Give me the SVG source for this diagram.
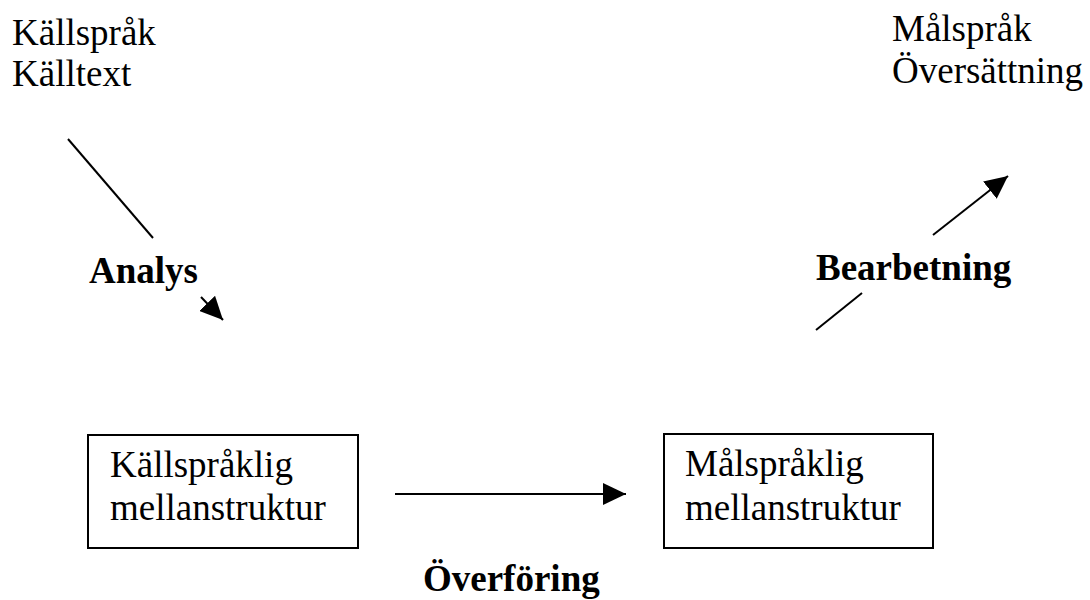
<svg xmlns="http://www.w3.org/2000/svg" width="1090" height="600" viewBox="0 0 1090 600">
<style>
.t{font-family:"Liberation Serif","Times New Roman",serif;font-size:37px;fill:#000}
.b{font-weight:bold}
.ln{stroke:#000;stroke-width:2;fill:none}
.box{stroke:#000;stroke-width:2;fill:#fff}
</style>
<defs>
<marker id="ah" markerUnits="userSpaceOnUse" markerWidth="24" markerHeight="22" refX="23" refY="11" orient="auto">
<path d="M0,0 L23,11 L0,22 z" fill="#000"/>
</marker>
</defs>
<rect width="1090" height="600" fill="#fff"/>
<g id="src">
<text class="t" x="12" y="45">Källspråk</text>
<text class="t" x="12" y="86">Källtext</text>
</g>
<g id="tgt">
<text class="t" x="892" y="41">Målspråk</text>
<text class="t" x="892" y="83">Översättning</text>
</g>
<g id="box1">
<rect class="box" x="88" y="435" width="270" height="113"/>
<text class="t" x="110" y="477">Källspråklig</text>
<text class="t" x="110" y="520">mellanstruktur</text>
</g>
<g id="box2">
<rect class="box" x="664" y="434" width="269" height="114"/>
<text class="t" x="685" y="476">Målspråklig</text>
<text class="t" x="685" y="520">mellanstruktur</text>
</g>
<g id="connectors">
<line class="ln" x1="68" y1="139" x2="153" y2="238"/>
<line class="ln" x1="201" y1="297" x2="223" y2="320" marker-end="url(#ah)"/>
<line class="ln" x1="395" y1="494" x2="626" y2="494" marker-end="url(#ah)"/>
<line class="ln" x1="816" y1="330" x2="862" y2="293"/>
<line class="ln" x1="933" y1="235" x2="1008" y2="176" marker-end="url(#ah)"/>
</g>
<g id="labels">
<text class="t b" x="89" y="283">Analys</text>
<text class="t b" x="816" y="280">Bearbetning</text>
<text class="t b" x="423" y="591">Överföring</text>
</g>
</svg>
